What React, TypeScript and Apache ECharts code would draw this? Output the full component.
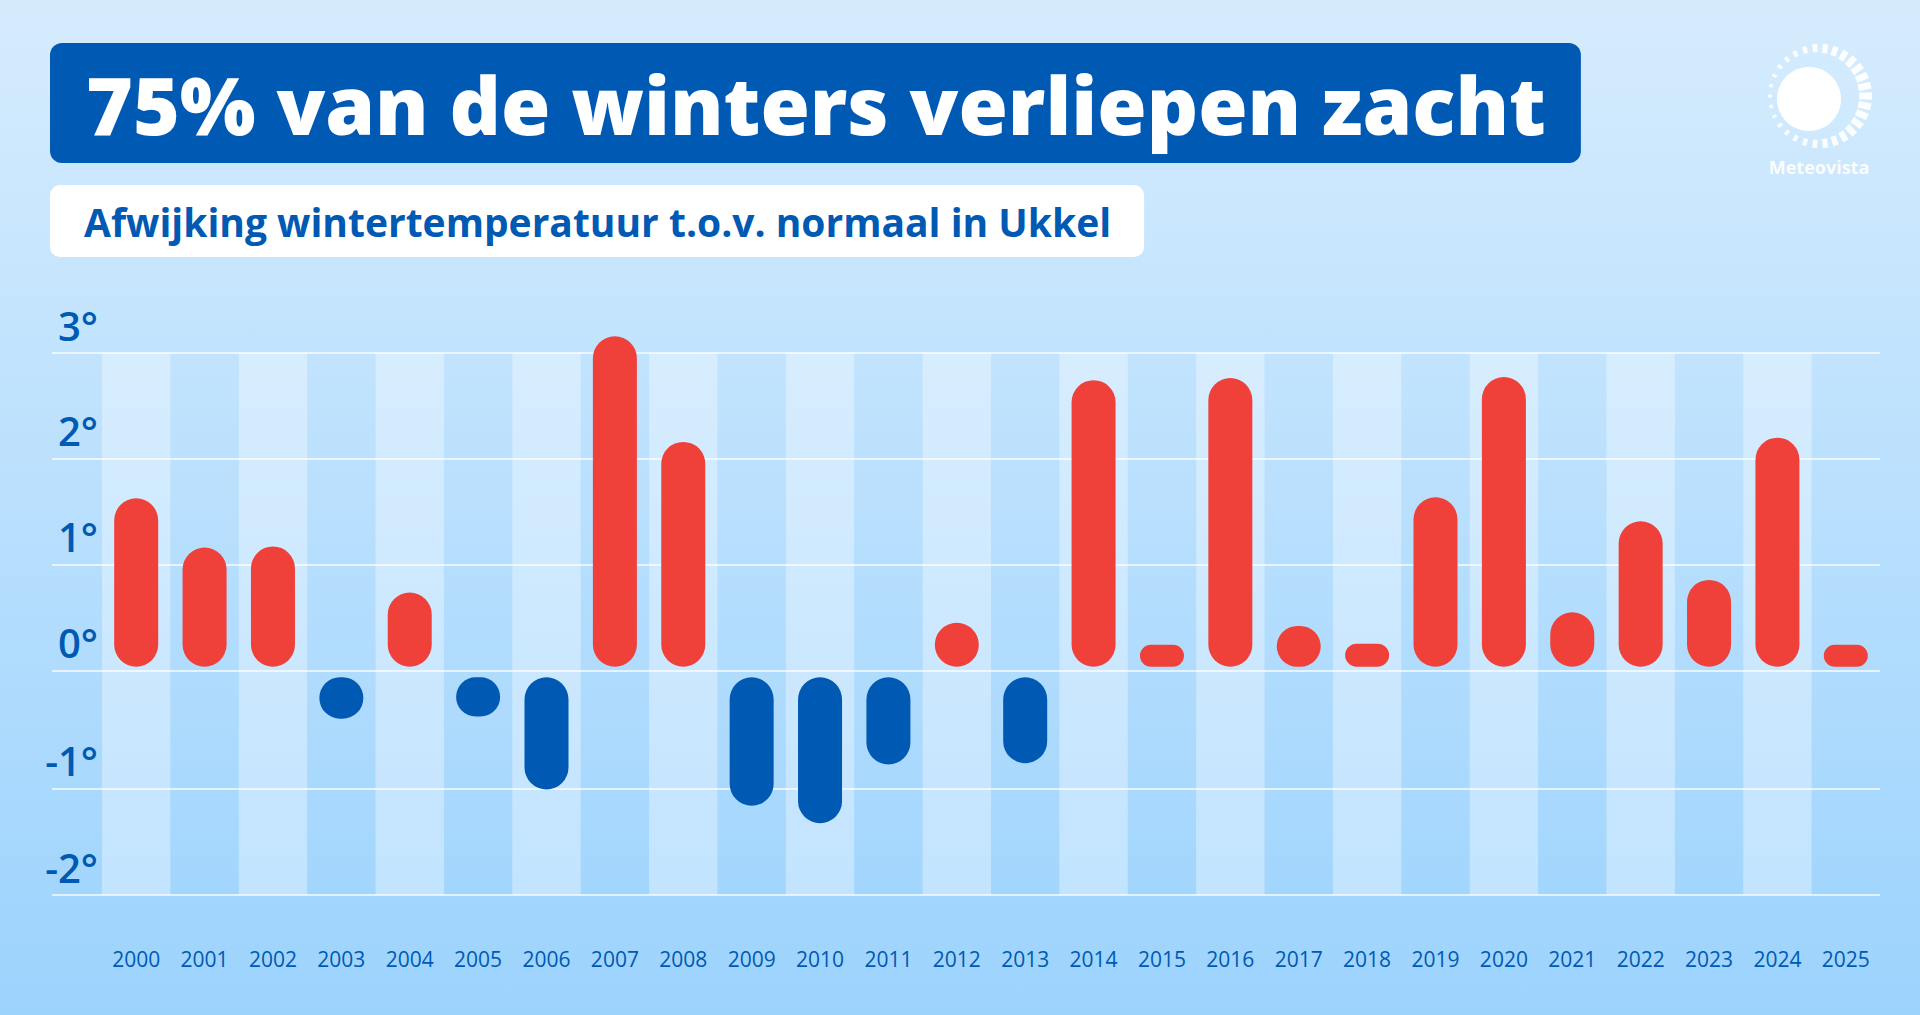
import React, { useEffect, useRef } from 'react';
import * as echarts from 'echarts';

const years = ['2000', '2001', '2002', '2003', '2004', '2005', '2006', '2007', '2008', '2009', '2010', '2011', '2012', '2013', '2014', '2015', '2016', '2017', '2018', '2019', '2020', '2021', '2022', '2023', '2024', '2025'];
const anomalies = [1.61, 1.14, 1.15, -0.38, 0.71, -0.36, -1.03, 3.16, 2.15, -1.18, -1.34, -0.8, 0.42, -0.79, 2.74, 0.21, 2.76, 0.39, 0.22, 1.62, 2.77, 0.52, 1.39, 0.83, 2.19, 0.21];
const titleText = '75% van de winters verliepen zacht';
const subtitleText = 'Afwijking wintertemperatuur t.o.v. normaal in Ukkel';
const brandText = 'Meteovista';

const BLUE = '#0059b3';
const RED = '#f0403a';
const FONT = '"Open Sans", "Noto Sans", sans-serif';

function buildLogo(): any[] {
  const els: any[] = [];
  const cx = 1820, cy = 96, R = 52, N = 30;
  for (let k = 0; k < N; k++) {
    const th = (k * 2 * Math.PI) / N;
    const f = (1 + Math.cos(th)) / 2;
    const L = 4 + 9 * f;
    const t = 3 + 4 * f;
    const rm = R - L / 2;
    els.push({
      type: 'rect',
      x: cx + rm * Math.cos(th),
      y: cy - rm * Math.sin(th),
      rotation: th,
      shape: { x: -L / 2, y: -t / 2, width: L, height: t },
      style: { fill: 'rgba(255,255,255,0.92)' },
    });
  }
  els.push({ type: 'circle', shape: { cx: 1809, cy: 99, r: 32 }, style: { fill: '#ffffff' } });
  els.push({
    type: 'text',
    x: 1819,
    y: 167,
    style: {
      text: brandText,
      fill: 'rgba(255,255,255,0.92)',
      font: `700 18px ${FONT}`,
      textAlign: 'center',
      textVerticalAlign: 'middle',
    },
  });
  return els;
}

export default function App() {
  const ref = useRef<HTMLDivElement>(null);
  useEffect(() => {
    document.body.style.margin = '0';
    const chart = echarts.init(ref.current as HTMLDivElement, null, { renderer: 'svg' });
    const yLabel = {
      color: BLUE,
      fontSize: 40,
      fontWeight: 600,
      fontFamily: FONT,
      align: 'right',
      margin: -46,
      verticalAlign: 'bottom',
      lineHeight: 40,
      padding: [0, 0, 8, 0],
    };
    const splitLine = { show: true, lineStyle: { color: 'rgba(255,255,255,0.9)', width: 1.5 } };
    const hiddenX = (gi: number) => ({ type: 'category', gridIndex: gi, data: years, show: false });
    const option: any = {
      animation: false,
      backgroundColor: new echarts.graphic.LinearGradient(0, 0, 0, 1, [
        { offset: 0, color: '#d6ecfd' },
        { offset: 1, color: '#9cd3fd' },
      ]),
      title: [
        {
          text: titleText,
          left: 50,
          top: 43,
          backgroundColor: BLUE,
          borderRadius: 12,
          padding: [10, 35, 10, 36],
          textStyle: { color: '#ffffff', fontSize: 80, fontWeight: 800, fontFamily: FONT, lineHeight: 100 },
        },
        {
          text: subtitleText,
          left: 50,
          top: 185,
          backgroundColor: '#ffffff',
          borderRadius: 10,
          padding: [10, 33, 10, 34],
          textStyle: { color: BLUE, fontSize: 39, fontWeight: 700, fontFamily: FONT, lineHeight: 52 },
        },
      ],
      grid: [
        { left: 52, right: 40, top: 353, bottom: 344.3 },
        { left: 52, right: 40, top: 681.6, bottom: 120 },
        { left: 102, right: 40, top: 353, bottom: 120 },
        { left: 102, right: 40, top: 353, bottom: 348.3 },
        { left: 102, right: 40, top: 677.3, bottom: 120 },
      ],
      xAxis: [
        hiddenX(0),
        hiddenX(1),
        {
          type: 'category',
          gridIndex: 2,
          data: years,
          z: 0,
          axisLine: { show: false },
          axisTick: { show: false },
          axisLabel: { color: BLUE, fontSize: 21, fontWeight: 500, fontFamily: FONT, margin: 53, interval: 0 },
          splitArea: {
            show: true,
            interval: 0,
            areaStyle: { color: ['rgba(255,255,255,0.35)', 'rgba(255,255,255,0)'] },
          },
        },
        hiddenX(3),
        hiddenX(4),
      ],
      yAxis: [
        {
          type: 'value',
          gridIndex: 0,
          min: 0,
          max: 3,
          interval: 1,
          z: 1,
          axisLine: { show: false },
          axisTick: { show: false },
          axisLabel: { ...yLabel, formatter: (v: number) => `${v}°` },
          splitLine,
        },
        {
          type: 'value',
          gridIndex: 1,
          min: -2,
          max: 0,
          interval: 1,
          z: 1,
          axisLine: { show: false },
          axisTick: { show: false },
          axisLabel: { ...yLabel, formatter: (v: number) => (v === 0 ? '' : `${v}°`) },
          splitLine: { ...splitLine, showMaxLine: false },
        },
        { type: 'value', gridIndex: 2, min: -2, max: 3, show: false, splitLine: { show: false } },
        { type: 'value', gridIndex: 3, min: 0, max: 3, show: false, splitLine: { show: false } },
        { type: 'value', gridIndex: 4, min: -2, max: 0, show: false, splitLine: { show: false } },
      ],
      series: [
        {
          name: 'Warmer',
          type: 'bar',
          xAxisIndex: 3,
          yAxisIndex: 3,
          barWidth: 44,
          clip: false,
          z: 3,
          itemStyle: { color: RED, borderRadius: 22 },
          data: anomalies.map((v) => (v > 0 ? v : '-')),
        },
        {
          name: 'Kouder',
          type: 'bar',
          xAxisIndex: 4,
          yAxisIndex: 4,
          barWidth: 44,
          clip: false,
          z: 3,
          itemStyle: { color: BLUE, borderRadius: 22 },
          data: anomalies.map((v) => (v < 0 ? v : '-')),
        },
      ],
      graphic: buildLogo(),
    };
    chart.setOption(option);
    return () => chart.dispose();
  }, []);
  return <div ref={ref} style={{ width: 1920, height: 1015 }} />;
}
